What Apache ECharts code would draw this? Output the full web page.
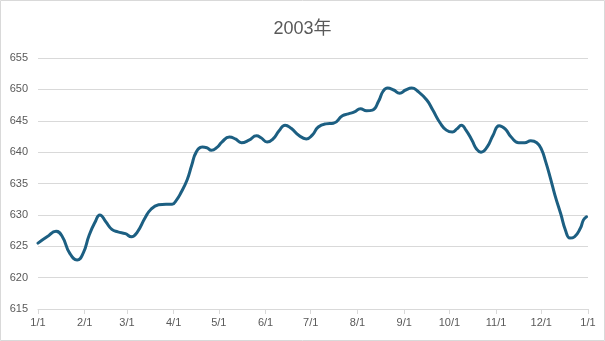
<!DOCTYPE html>
<html>
<head>
<meta charset="utf-8">
<script src="https://cdn.jsdelivr.net/npm/echarts@6/dist/echarts.min.js"></script>
<style>
  html, body { margin: 0; padding: 0; background: #fff; }
  #chart { width: 605px; height: 341px; }
</style>
</head>
<body>
<div id="chart"></div>
<script>
// Daily level readings through 2003 (date, value)
const dates = [
  '2003-01-01','2003-01-07','2003-01-13','2003-01-17','2003-01-22','2003-01-27','2003-01-31',
  '2003-02-04','2003-02-08','2003-02-11','2003-02-15','2003-02-19','2003-02-23','2003-02-28',
  '2003-03-04','2003-03-08','2003-03-13','2003-03-17','2003-03-22','2003-03-27','2003-03-31',
  '2003-04-03','2003-04-06','2003-04-10','2003-04-13','2003-04-16','2003-04-20','2003-04-23','2003-04-26','2003-04-30',
  '2003-05-03','2003-05-08','2003-05-12','2003-05-16','2003-05-21','2003-05-26','2003-05-29',
  '2003-06-02','2003-06-06','2003-06-10','2003-06-14','2003-06-18','2003-06-23','2003-06-28',
  '2003-07-02','2003-07-06','2003-07-11','2003-07-16','2003-07-22','2003-07-26','2003-07-30',
  '2003-08-03','2003-08-07','2003-08-11','2003-08-15','2003-08-18','2003-08-21','2003-08-25','2003-08-29',
  '2003-09-02','2003-09-06','2003-09-10','2003-09-16','2003-09-20','2003-09-25','2003-09-29',
  '2003-10-03','2003-10-06','2003-10-09','2003-10-12','2003-10-16','2003-10-19','2003-10-22','2003-10-26','2003-10-30',
  '2003-11-03','2003-11-07','2003-11-11','2003-11-16','2003-11-20','2003-11-24','2003-11-28',
  '2003-12-01','2003-12-04','2003-12-07','2003-12-10','2003-12-14','2003-12-17','2003-12-20','2003-12-23','2003-12-27','2003-12-29','2003-12-31'
];
const values = [
  625.5, 626.5, 627.4, 626.6, 623.9, 622.8, 623.9,
  626.8, 628.9, 630.0, 628.9, 627.7, 627.3, 627.0,
  626.5, 627.3, 629.5, 630.9, 631.6, 631.7, 631.7,
  632.4, 633.6, 635.6, 637.9, 640.0, 640.8, 640.7, 640.3, 640.8,
  641.6, 642.4, 642.1, 641.5, 641.9, 642.6, 642.3,
  641.6, 642.1, 643.4, 644.3, 643.8, 642.7, 642.1,
  642.7, 644.0, 644.5, 644.6, 645.8, 646.1, 646.4,
  646.9, 646.6, 646.7, 648.1, 649.7, 650.2, 649.9, 649.4,
  649.9, 650.2, 649.7, 648.3, 646.7, 644.6, 643.5,
  643.2, 643.7, 644.3, 643.5, 641.9, 640.5, 640.0, 640.8, 642.7,
  644.2, 643.7, 642.4, 641.5, 641.5, 641.8, 641.5,
  640.5, 638.4, 635.9, 633.2, 630.1, 627.6, 626.3, 626.5, 627.9, 629.2, 629.7
];
const titleText = '2003年';
const yMin = 615, yMax = 655, yStep = 5;

// Every calendar day from 2003-01-01 through 2004-01-01 forms the category axis
function pad(n) { return n < 10 ? '0' + n : '' + n; }
const days = [];
for (let t = Date.UTC(2003, 0, 1); t <= Date.UTC(2004, 0, 1); t += 86400000) {
  const d = new Date(t);
  days.push(d.getUTCFullYear() + '-' + pad(d.getUTCMonth() + 1) + '-' + pad(d.getUTCDate()));
}
const isMonthStart = (i) => days[i].slice(8) === '01';
const points = dates.map((d, i) => [days.indexOf(d), values[i]]);

const textColor = '#595959';
const lineColor = '#d9d9d9';
const fontFamily = '"Liberation Sans", Arial, "Noto Sans CJK SC", sans-serif';

const chart = echarts.init(document.getElementById('chart'));
chart.setOption({
  animation: false,
  textStyle: { fontFamily: fontFamily },
  title: {
    text: titleText,
    left: 'center',
    top: 15,
    textStyle: { fontSize: 18, fontWeight: 'normal', color: textColor, fontFamily: fontFamily }
  },
  graphic: [{
    type: 'rect',
    shape: { x: 0.5, y: 0.5, width: 604, height: 340 },
    style: { fill: 'none', stroke: lineColor, lineWidth: 1 },
    silent: true
  }],
  grid: { left: 38, right: 17, top: 58, bottom: 32, containLabel: false },
  xAxis: {
    type: 'category',
    data: days,
    boundaryGap: false,
    axisLine: { show: true, lineStyle: { color: lineColor, width: 1 } },
    axisTick: {
      show: true,
      length: 5,
      interval: (i) => isMonthStart(i),
      lineStyle: { color: lineColor }
    },
    axisLabel: {
      interval: (i) => isMonthStart(i),
      formatter: (v) => parseInt(v.slice(5, 7), 10) + '/' + parseInt(v.slice(8), 10),
      color: textColor,
      fontSize: 11,
      margin: 8,
      fontFamily: fontFamily
    },
    splitLine: { show: false }
  },
  yAxis: {
    type: 'value',
    min: yMin,
    max: yMax,
    interval: yStep,
    axisLine: { show: false },
    axisTick: { show: false },
    axisLabel: { color: textColor, fontSize: 11, margin: 10, fontFamily: fontFamily },
    splitLine: { lineStyle: { color: lineColor, width: 1 } }
  },
  series: [{
    type: 'line',
    data: points,
    smooth: 0.5,
    showSymbol: false,
    symbol: 'none',
    lineStyle: { color: '#1c5f82', width: 3, cap: 'round', join: 'round' }
  }]
});
</script>
</body>
</html>
